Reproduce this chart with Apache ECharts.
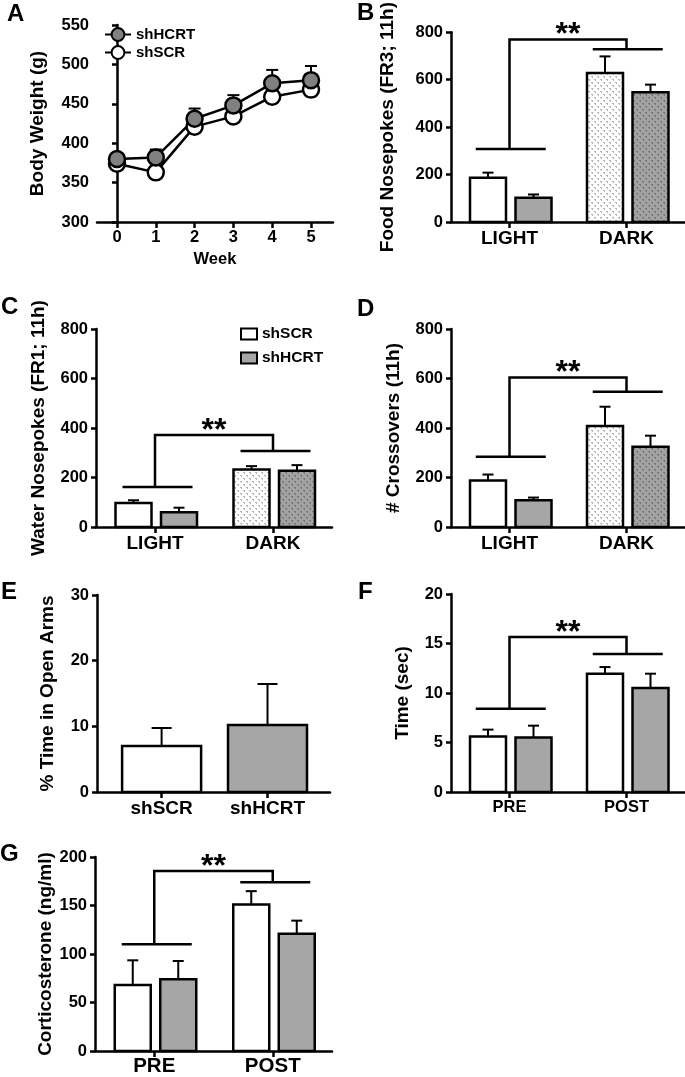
<!DOCTYPE html>
<html><head><meta charset="utf-8">
<script src="https://cdn.jsdelivr.net/npm/echarts@6/dist/echarts.min.js"></script>
<style>html,body{margin:0;padding:0;background:#fff}#c{width:685px;height:1077px}</style>
</head><body><div id="c"></div>
<script>
const FONT = '"Liberation Sans", Arial, Helvetica, sans-serif';

// ---- Panel A: body weight ----
const weeks = [0, 1, 2, 3, 4, 5];
const bwHcrt = [380, 382, 431, 448, 476, 480];
const bwHcrtSem = [3, 10, 13, 13, 17, 18];
const bwScr = [374, 363, 421, 434, 459, 468];

// ---- Panel B: food nosepokes ----
const phaseCats = ['LIGHT', 'DARK'];
const foodScr = [187, 628], foodScrSem = [21, 70];
const foodHcrt = [102, 547], foodHcrtSem = [14, 32];
const foodSig = [308, 728, 769];

// ---- Panel C: water nosepokes ----
const waterScr = [97, 232], waterScrSem = [11, 14];
const waterHcrt = [60, 227], waterHcrtSem = [18, 23];
const waterSig = [162, 307, 372];

// ---- Panel D: crossovers ----
const crossScr = [188, 408], crossScrSem = [24, 78];
const crossHcrt = [108, 324], crossHcrtSem = [11, 45];
const crossSig = [284, 546, 604];

// ---- Panel E: open arms ----
const groupCats = ['shSCR', 'shHCRT'];
const openArms = [7.0, 10.2], openArmsSem = [2.75, 6.25];

// ---- Panel F: time ----
const prePostCats = ['PRE', 'POST'];
const timeScr = [5.6, 11.95], timeScrSem = [0.7, 0.67];
const timeHcrt = [5.5, 10.5], timeHcrtSem = [1.2, 1.45];
const timeSig = [8.4, 13.95, 15.65];

// ---- Panel G: corticosterone ----
const cortScr = [68, 151], cortScrSem = [25.5, 13.8];
const cortHcrt = [74, 121], cortHcrtSem = [18.8, 13.4];
const cortSig = [110, 174, 185.5];

// ---------- styling helpers ----------
function makePattern(bg, dot) {
  const c = document.createElement('canvas');
  c.width = 6; c.height = 6;
  const g = c.getContext('2d');
  g.fillStyle = bg; g.fillRect(0, 0, 6, 6);
  g.fillStyle = dot;
  g.fillRect(0, 1, 2, 1); g.fillRect(1, 2, 1, 1);
  g.fillRect(3, 4, 2, 1); g.fillRect(4, 5, 1, 1);
  return { image: c, repeat: 'repeat' };
}
const WHITE = '#ffffff', GRAY = '#a6a6a6';
const patLight = makePattern('#ffffff', '#b4b4b4');
const patDark = makePattern('#a2a2a2', '#767676');

const grids = [
  { left: 97, top: 25, width: 236, height: 197 },   // A
  { left: 451, top: 25, width: 234, height: 197 },  // B
  { left: 96, top: 329, width: 236, height: 198 },  // C
  { left: 451, top: 329, width: 234, height: 198 }, // D
  { left: 97, top: 595, width: 233, height: 197 },  // E
  { left: 451, top: 594, width: 234, height: 198 }, // F
  { left: 95, top: 857, width: 237, height: 199 }   // G
];

function yAx(gi, min, max, interval, name, nameGap) {
  return {
    type: 'value', gridIndex: gi, min, max, interval,
    name, nameLocation: 'middle', nameRotate: 90, nameGap,
    nameTextStyle: { fontSize: 19, fontWeight: 'bold', fontFamily: FONT, color: '#000' },
    axisLine: { show: true, lineStyle: { color: '#000', width: 2.5 } },
    axisTick: { show: true, length: 5, lineStyle: { color: '#000', width: 2.5 } },
    axisLabel: { fontSize: 16.5, fontWeight: 'bold', fontFamily: FONT, color: '#000', margin: 8 },
    splitLine: { show: false }
  };
}
function xAx(gi, min, max, ticks, labels, fontSize, margin, name, nameGap) {
  return {
    type: 'value', gridIndex: gi, min, max,
    name: name || '', nameLocation: 'middle', nameGap: nameGap || 0,
    nameTextStyle: { fontSize: 16.5, fontWeight: 'bold', fontFamily: FONT, color: '#000' },
    axisLine: { show: true, onZero: false, lineStyle: { color: '#000', width: 2.5 } },
    axisTick: { show: true, length: 6, customValues: ticks, lineStyle: { color: '#000', width: 2.5 } },
    axisLabel: {
      customValues: ticks, fontSize, fontWeight: 'bold', fontFamily: FONT, color: '#000', margin,
      formatter: v => labels[ticks.indexOf(v)]
    },
    splitLine: { show: false }
  };
}

function barSeries(gi, name, vals, sems, fills, bw, off, capW) {
  return {
    type: 'custom', name, xAxisIndex: gi, yAxisIndex: gi, clip: false, z: 3, silent: true,
    data: vals.map((v, i) => [i + 1, v, sems[i]]),
    encode: { x: 0, y: 1 },
    renderItem(params, api) {
      const pos = api.value(0), v = api.value(1), s = api.value(2);
      const top = api.coord([pos, v]);
      const base = api.coord([pos, 0]);
      const et = api.coord([pos, v + s]);
      const x = top[0] + off;
      return {
        type: 'group', children: [
          { type: 'line', shape: { x1: x, y1: top[1], x2: x, y2: et[1] }, style: { stroke: '#000', lineWidth: 2 } },
          { type: 'line', shape: { x1: x - capW / 2, y1: et[1], x2: x + capW / 2, y2: et[1] }, style: { stroke: '#000', lineWidth: 2 } },
          { type: 'rect', shape: { x: x - bw / 2, y: top[1], width: bw, height: base[1] - top[1] },
            style: { fill: fills[params.dataIndex], stroke: '#000', lineWidth: 2.5 } }
        ]
      };
    }
  };
}

function sigSeries(gi, levels, groupOff, hw) {
  return {
    type: 'custom', xAxisIndex: gi, yAxisIndex: gi, clip: false, z: 4, silent: true,
    data: [[1, 2, levels[0], levels[1], levels[2]]],
    encode: { x: [0, 1], y: [2, 3, 4] },
    renderItem(params, api) {
      const p1 = api.coord([api.value(0), api.value(2)]);
      const p2 = api.coord([api.value(1), api.value(3)]);
      const t = api.coord([api.value(0), api.value(4)])[1];
      const ls = { stroke: '#000', lineWidth: 2.5, fill: null };
      const c1 = p1[0] + groupOff, c2 = p2[0] + groupOff;
      return {
        type: 'group', children: [
          { type: 'line', shape: { x1: c1 - hw, y1: p1[1], x2: c1 + hw, y2: p1[1] }, style: ls },
          { type: 'line', shape: { x1: c2 - hw, y1: p2[1], x2: c2 + hw, y2: p2[1] }, style: ls },
          { type: 'polyline', shape: { points: [[p1[0], p1[1]], [p1[0], t], [p2[0], t], [p2[0], p2[1]]] }, style: ls },
          { type: 'text', x: (p1[0] + p2[0]) / 2, y: t - 4,
            style: { text: '**', fill: '#000', font: 'bold 32px ' + FONT, align: 'center', verticalAlign: 'middle' } }
        ]
      };
    }
  };
}

const BW = 36, OFF1 = -21.5, OFF2 = 24, CAP = 11;

const xAxes = [
  xAx(0, -0.515, 5.567, weeks, weeks.map(String), 16.5, 7, 'Week', 29),
  xAx(1, 0.5, 2.5, [1, 2], phaseCats, 19, 7),
  xAx(2, 0.5, 2.5, [1, 2], phaseCats, 19, 7),
  xAx(3, 0.5, 2.5, [1, 2], phaseCats, 19, 7),
  xAx(4, 0.39, 2.59, [1, 2], groupCats, 19, 7),
  xAx(5, 0.5, 2.5, [1, 2], prePostCats, 16.5, 7),
  xAx(6, 0.5, 2.5, [1, 2], prePostCats, 20.5, 5)
];
const yAxes = [
  yAx(0, 300, 550, 50, 'Body Weight (g)', 50),
  yAx(1, 0, 800, 200, 'Food Nosepokes (FR3; 11h)', 54),
  yAx(2, 0, 800, 200, 'Water Nosepokes (FR1; 11h)', 48),
  yAx(3, 0, 800, 200, '# Crossovers (11h)', 48),
  yAx(4, 0, 30, 10, '% Time in Open Arms', 40),
  yAx(5, 0, 20, 5, 'Time (sec)', 39),
  yAx(6, 0, 200, 50, 'Corticosterone (ng/ml)', 39)
];

const series = [
  // Panel A
  {
    type: 'line', name: 'shSCR', xAxisIndex: 0, yAxisIndex: 0, z: 2,
    data: weeks.map((w, i) => [w, bwScr[i]]),
    symbol: 'circle', symbolSize: 16,
    lineStyle: { color: '#000', width: 2.5 },
    itemStyle: { color: '#fff', borderColor: '#000', borderWidth: 2.5 }
  },
  {
    type: 'custom', xAxisIndex: 0, yAxisIndex: 0, z: 1, silent: true,
    data: weeks.map((w, i) => [w, bwHcrt[i], bwHcrtSem[i]]),
    encode: { x: 0, y: 1 },
    renderItem(params, api) {
      const p = api.coord([api.value(0), api.value(1)]);
      const e = api.coord([api.value(0), api.value(1) + api.value(2)]);
      const st = { stroke: '#000', lineWidth: 2 };
      return { type: 'group', children: [
        { type: 'line', shape: { x1: p[0], y1: p[1], x2: p[0], y2: e[1] }, style: st },
        { type: 'line', shape: { x1: p[0] - 6, y1: e[1], x2: p[0] + 6, y2: e[1] }, style: st }
      ] };
    }
  },
  {
    type: 'line', name: 'shHCRT', xAxisIndex: 0, yAxisIndex: 0, z: 2,
    data: weeks.map((w, i) => [w, bwHcrt[i]]),
    symbol: 'circle', symbolSize: 16,
    lineStyle: { color: '#000', width: 2.5 },
    itemStyle: { color: '#808080', borderColor: '#000', borderWidth: 2.5 }
  },
  // Panel B
  barSeries(1, 'shSCR', foodScr, foodScrSem, [WHITE, patLight], BW, OFF1, CAP),
  barSeries(1, 'shHCRT', foodHcrt, foodHcrtSem, [GRAY, patDark], BW, OFF2, CAP),
  sigSeries(1, foodSig, 1.25, 35),
  // Panel C
  barSeries(2, 'shSCR', waterScr, waterScrSem, [WHITE, patLight], BW, OFF1, CAP),
  barSeries(2, 'shHCRT', waterHcrt, waterHcrtSem, [GRAY, patDark], BW, OFF2, CAP),
  sigSeries(2, waterSig, 2.5, 35),
  // Panel D
  barSeries(3, 'shSCR', crossScr, crossScrSem, [WHITE, patLight], BW, OFF1, CAP),
  barSeries(3, 'shHCRT', crossHcrt, crossHcrtSem, [GRAY, patDark], BW, OFF2, CAP),
  sigSeries(3, crossSig, 1.25, 35),
  // Panel E
  barSeries(4, 'openArms', openArms, openArmsSem, [WHITE, GRAY], 79, 0, 20),
  // Panel F
  barSeries(5, 'shSCR', timeScr, timeScrSem, [WHITE, WHITE], BW, OFF1, CAP),
  barSeries(5, 'shHCRT', timeHcrt, timeHcrtSem, [GRAY, GRAY], BW, OFF2, CAP),
  sigSeries(5, timeSig, 1.25, 35),
  // Panel G
  barSeries(6, 'shSCR', cortScr, cortScrSem, [WHITE, WHITE], BW, OFF1, CAP),
  barSeries(6, 'shHCRT', cortHcrt, cortHcrtSem, [GRAY, GRAY], BW, OFF2, CAP),
  sigSeries(6, cortSig, 2.5, 35)
];

const letterStyle = { font: 'bold 24px ' + FONT, fill: '#000' };
const letters = [['A', 7, 2], ['B', 357, 1], ['C', 1, 295], ['D', 357, 297], ['E', 1, 580], ['F', 358, 580], ['G', 0, 842]];

const option = {
  animation: false,
  backgroundColor: '#fff',
  grid: grids,
  xAxis: xAxes,
  yAxis: yAxes,
  legend: [
    {
      data: ['shHCRT', 'shSCR'], orient: 'vertical', left: 104, top: 27,
      itemWidth: 26, itemHeight: 16, itemGap: 3, selectedMode: false, padding: 0,
      textStyle: { fontSize: 15, fontWeight: 'bold', fontFamily: FONT, color: '#000' }
    },
    {
      data: [
        { name: 'shSCR', icon: 'rect', itemStyle: { color: '#fff', borderColor: '#000', borderWidth: 2 } },
        { name: 'shHCRT', icon: 'rect', itemStyle: { color: GRAY, borderColor: '#000', borderWidth: 2 } }
      ],
      orient: 'vertical', left: 240, top: 326, itemWidth: 16, itemHeight: 11, itemGap: 8,
      selectedMode: false, padding: 0,
      textStyle: { fontSize: 15.5, fontWeight: 'bold', fontFamily: FONT, color: '#000' }
    }
  ],
  graphic: letters.map(([t, l, tp]) => ({ type: 'text', left: l, top: tp, style: Object.assign({ text: t }, letterStyle) })),
  series
};

const chart = echarts.init(document.getElementById('c'), null, { renderer: 'canvas' });
chart.setOption(option);
</script>
</body></html>
